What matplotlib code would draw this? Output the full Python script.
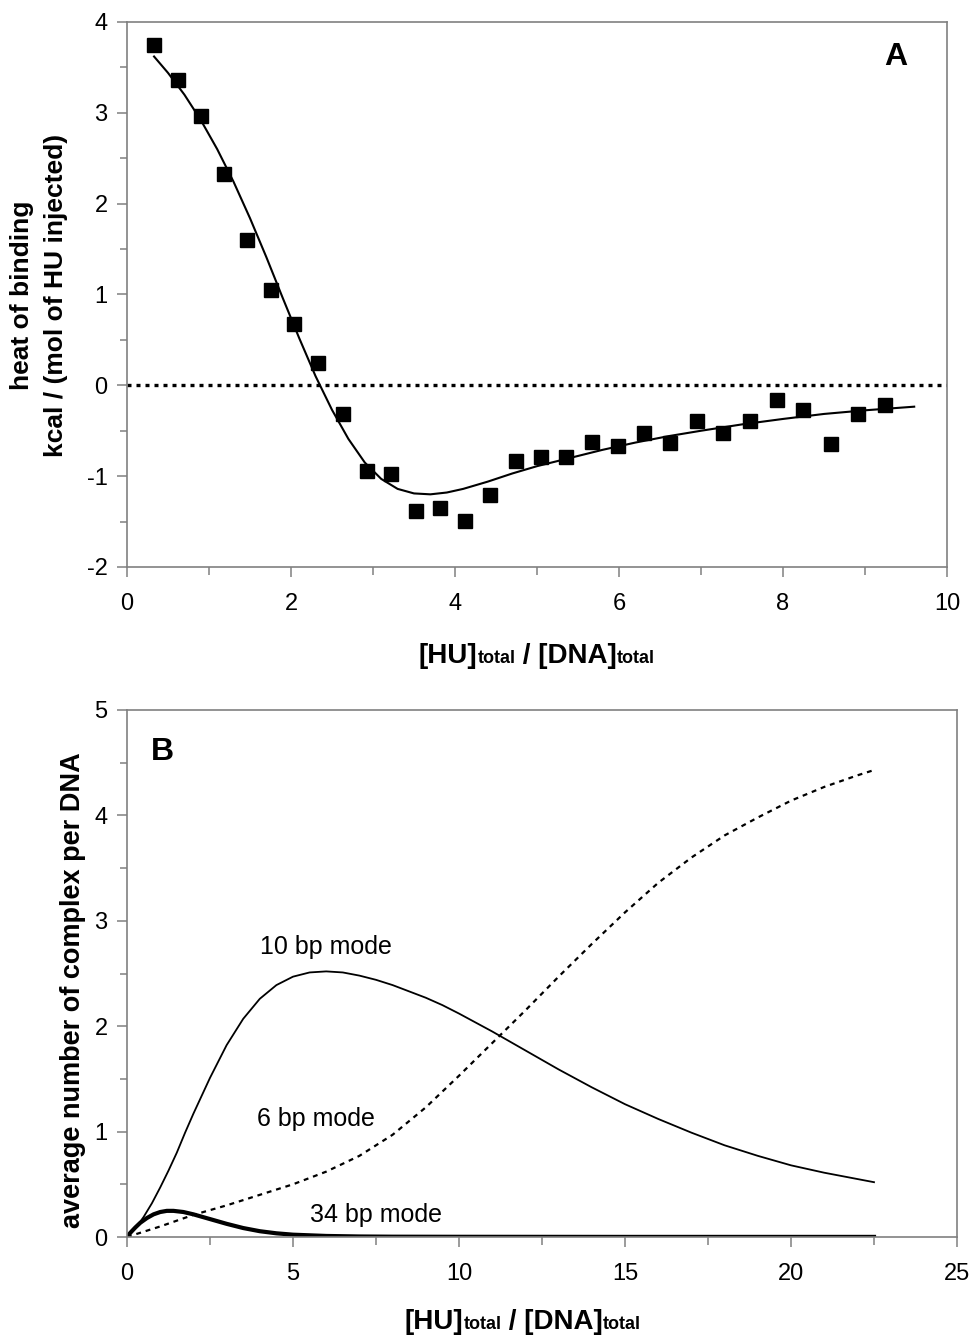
import numpy as np
import matplotlib
matplotlib.use("Agg")
import matplotlib.pyplot as plt
from matplotlib.ticker import MultipleLocator
from matplotlib.offsetbox import TextArea, HPacker, AnchoredOffsetbox

plt.rcParams['font.family'] = ['Liberation Sans', 'DejaVu Sans']
plt.rcParams['axes.unicode_minus'] = False

# Panel A: ITC heat of binding (squares) and model fit
ratio_pts = [0.33, 0.62, 0.90, 1.18, 1.46, 1.76, 2.04, 2.33, 2.63, 2.93, 3.22, 3.52, 3.82,
             4.12, 4.43, 4.74, 5.05, 5.35, 5.67, 5.99, 6.30, 6.62, 6.95, 7.27, 7.60, 7.93,
             8.24, 8.59, 8.91, 9.24]
heat_pts = [3.75, 3.36, 2.96, 2.33, 1.60, 1.05, 0.67, 0.25, -0.32, -0.94, -0.98, -1.38, -1.35,
            -1.49, -1.21, -0.83, -0.79, -0.79, -0.62, -0.67, -0.52, -0.64, -0.39, -0.52, -0.39,
            -0.16, -0.27, -0.65, -0.32, -0.22]

fit_x = [0.33, 0.5, 0.7, 0.9, 1.1, 1.3, 1.5, 1.7, 1.9, 2.1, 2.3, 2.5, 2.7, 2.9, 3.1, 3.3,
         3.5, 3.7, 3.9, 4.1, 4.4, 4.7, 5.0, 5.4, 5.8, 6.2, 6.6, 7.0, 7.5, 8.0, 8.5, 9.0, 9.6]
fit_y = [3.62, 3.44, 3.20, 2.92, 2.60, 2.24, 1.84, 1.41, 0.96, 0.52, 0.10, -0.27, -0.59,
         -0.85, -1.03, -1.14, -1.19, -1.20, -1.18, -1.14, -1.06, -0.97, -0.89, -0.80, -0.71,
         -0.63, -0.56, -0.50, -0.43, -0.37, -0.315, -0.275, -0.235]

# Panel B: average number of complexes per DNA for each binding mode
x10 = [0, 0.25, 0.5, 0.75, 1.0, 1.25, 1.5, 1.75, 2.0, 2.5, 3.0, 3.5, 4.0, 4.5, 5.0, 5.5,
       6.0, 6.5, 7.0, 7.5, 8.0, 8.5, 9.0, 9.5, 10, 11, 12, 13, 14, 15, 16, 17, 18, 19, 20,
       21, 22, 22.5]
y10 = [0, 0.08, 0.19, 0.32, 0.47, 0.63, 0.80, 0.99, 1.17, 1.51, 1.82, 2.07, 2.26, 2.39,
       2.47, 2.51, 2.52, 2.51, 2.48, 2.44, 2.39, 2.33, 2.27, 2.20, 2.12, 1.95, 1.77, 1.59,
       1.42, 1.26, 1.12, 0.99, 0.87, 0.77, 0.68, 0.61, 0.55, 0.52]

x6 = [0, 1, 2, 3, 4, 5, 6, 7, 8, 9, 10, 11, 12, 13, 14, 15, 16, 17, 18, 19, 20, 21, 22, 22.5]
y6 = [0, 0.10, 0.21, 0.30, 0.40, 0.50, 0.62, 0.77, 0.97, 1.23, 1.53, 1.84, 2.15, 2.47,
      2.78, 3.08, 3.36, 3.60, 3.81, 3.98, 4.14, 4.27, 4.38, 4.43]

x34 = [0, 0.1, 0.25, 0.4, 0.6, 0.8, 1.0, 1.2, 1.4, 1.7, 2.0, 2.5, 3.0, 3.5, 4.0, 4.5, 5.0,
       6, 7, 8, 10, 15, 22.5]
y34 = [0, 0.04, 0.09, 0.135, 0.18, 0.215, 0.237, 0.248, 0.248, 0.237, 0.215, 0.17, 0.125,
       0.085, 0.055, 0.035, 0.022, 0.01, 0.005, 0.003, 0.002, 0.001, 0.001]

W, H = 977, 1336
fig = plt.figure(figsize=(W / 100, H / 100), dpi=100)

spine_col = '#808080'


def style_axes(ax):
    for s in ax.spines.values():
        s.set_color(spine_col)
        s.set_linewidth(1.2)
    ax.tick_params(which='both', direction='out', color=spine_col, width=1.1,
                   labelsize=17, labelcolor='black')
    ax.tick_params(axis='x', which='major', length=7, pad=12)
    ax.tick_params(axis='x', which='minor', length=6)
    ax.tick_params(axis='y', which='major', length=7, pad=7)
    ax.tick_params(axis='y', which='minor', length=5)


def xlabel_box(xc, yc):
    parts = [("[HU]", 20), ("total", 13), (" / [DNA]", 20), ("total", 13)]
    boxes = [TextArea(t, textprops=dict(fontsize=s, fontweight='bold')) for t, s in parts]
    pack = HPacker(children=boxes, align="baseline", pad=0, sep=0)
    ab = AnchoredOffsetbox(loc='center', child=pack, pad=0, borderpad=0, frameon=False,
                           bbox_to_anchor=(xc / W, 1 - yc / H),
                           bbox_transform=fig.transFigure)
    fig.add_artist(ab)


# ---- panel A
axA = fig.add_axes([127 / W, 1 - 567 / H, 820 / W, 545 / H])
style_axes(axA)
axA.axhline(0, color='black', lw=2.4, ls=(0, (1.2, 1.5)), zorder=1)
axA.plot(fit_x, fit_y, color='black', lw=1.5, zorder=2)
axA.plot(ratio_pts, heat_pts, 's', color='black', markersize=10, zorder=3)
axA.set_xlim(0, 10)
axA.set_ylim(-2, 4)
axA.xaxis.set_major_locator(MultipleLocator(2))
axA.xaxis.set_minor_locator(MultipleLocator(1))
axA.yaxis.set_major_locator(MultipleLocator(1))
axA.yaxis.set_minor_locator(MultipleLocator(0.5))
axA.text(0.937, 0.935, 'A', transform=axA.transAxes, fontsize=23, fontweight='bold',
         ha='center', va='center')
fig.text(22 / W, 1 - 295 / H, 'heat of binding', rotation=90, fontsize=19,
         fontweight='bold', ha='center', va='center')
fig.text(56 / W, 1 - 295 / H, 'kcal / (mol of HU injected)', rotation=90, fontsize=19,
         fontweight='bold', ha='center', va='center')
xlabel_box(537, 656)

# ---- panel B
axB = fig.add_axes([127 / W, 1 - 1237 / H, 830 / W, 527 / H])
style_axes(axB)
axB.plot(x10, y10, color='black', lw=1.3)
axB.plot(x6, y6, color='black', lw=1.6, ls=(0, (2.2, 2.2)))
axB.plot(x34, y34, color='black', lw=3)
axB.set_xlim(0, 25)
axB.set_ylim(0, 5)
axB.xaxis.set_major_locator(MultipleLocator(5))
axB.xaxis.set_minor_locator(MultipleLocator(2.5))
axB.yaxis.set_major_locator(MultipleLocator(1))
axB.yaxis.set_minor_locator(MultipleLocator(0.5))
axB.text(6.0, 2.75, '10 bp mode', fontsize=18, ha='center', va='center')
axB.text(5.7, 1.12, '6 bp mode', fontsize=18, ha='center', va='center')
axB.text(7.5, 0.21, '34 bp mode', fontsize=18, ha='center', va='center')
axB.text(0.043, 0.92, 'B', transform=axB.transAxes, fontsize=23, fontweight='bold',
         ha='center', va='center')
fig.text(73 / W, 1 - 990 / H, 'average number of complex per DNA', rotation=90,
         fontsize=19.5, fontweight='bold', ha='center', va='center')
xlabel_box(523, 1322)

fig.savefig('out.png', dpi=100)
